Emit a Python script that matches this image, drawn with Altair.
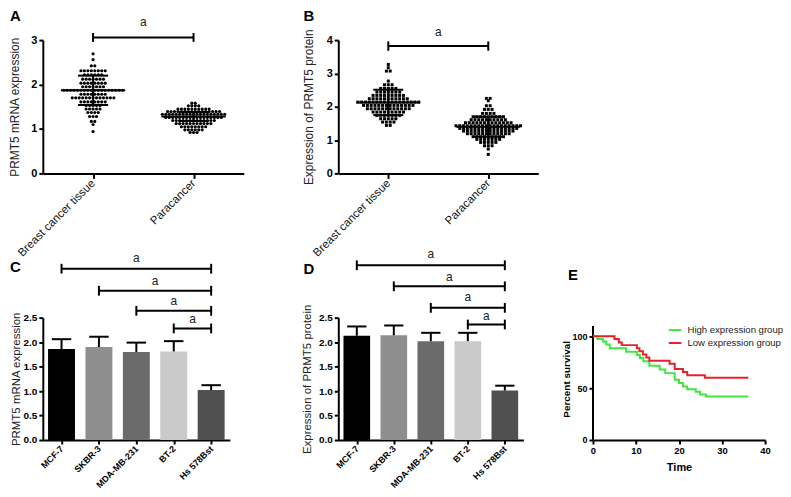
import json
import altair as alt
import pandas as pd

FONT = "Liberation Sans"

# ---------------- Panel A : PRMT5 mRNA (scatter dot plot) ----------------
a_groups = ["Breast cancer tissue", "Paracancer"]
a_breast_levels = [2.69, 2.56, 2.42, 2.31, 2.22, 2.12, 2.03, 1.95, 1.87, 1.78, 1.70, 1.61, 1.53, 1.45, 1.37, 1.28, 1.17, 1.10, 0.94]
a_breast_counts = [1, 1, 2, 8, 6, 7, 8, 7, 18, 8, 13, 8, 5, 5, 4, 3, 2, 1, 1]
a_para_levels = [1.58, 1.52, 1.45, 1.39, 1.33, 1.26, 1.19, 1.12, 1.05, 0.98, 0.92]
a_para_counts = [2, 4, 10, 16, 19, 17, 13, 11, 8, 6, 3]
a_means = [1.87, 1.28]
a_sds = [0.33, 0.10]

# ---------------- Panel B : PRMT5 protein (scatter dot plot) ----------------
b_breast_levels = [3.27, 3.17, 3.07, 2.77, 2.66, 2.55, 2.44, 2.34, 2.24, 2.14, 2.04, 1.94, 1.84, 1.74, 1.64, 1.54, 1.44]
b_breast_counts = [1, 1, 2, 1, 3, 5, 7, 9, 11, 17, 14, 12, 9, 7, 5, 4, 2]
b_para_levels = [2.25, 2.18, 2.03, 1.92, 1.80, 1.70, 1.61, 1.52, 1.43, 1.35, 1.27, 1.19, 1.10, 1.02, 0.93, 0.83, 0.73, 0.57]
b_para_counts = [2, 1, 2, 3, 4, 9, 10, 13, 18, 16, 14, 12, 9, 7, 5, 3, 1, 1]
b_means = [2.13, 1.40]
b_sds = [0.38, 0.30]

# ---------------- Panels C / D : cell lines (bar charts) ----------------
cells = ["MCF-7", "SKBR-3", "MDA-MB-231", "BT-2", "Hs 578Bst"]
bar_colors = ["#000000", "#8e8e8e", "#6b6b6b", "#cacaca", "#505050"]
c_means = [1.86, 1.90, 1.80, 1.81, 1.02]
c_errs = [0.20, 0.21, 0.19, 0.21, 0.10]
d_means = [2.13, 2.14, 2.02, 2.02, 1.01]
d_errs = [0.19, 0.20, 0.17, 0.17, 0.10]
brk_starts = [0, 1, 2, 3]
c_brk_y = [3.50, 3.05, 2.64, 2.28]
c_txt_y = [3.64, 3.17, 2.76, 2.40]
d_brk_y = [3.57, 3.14, 2.70, 2.36]
d_txt_y = [3.71, 3.24, 2.83, 2.46]

# ---------------- Panel E : survival curves ----------------
e_groups = ["High expression group", "Low expression group"]
e_high_t = [0, 1.0, 2.3, 3.1, 3.9, 7.7, 10.2, 10.9, 11.7, 13.1, 15.5, 16.8, 19.0, 20.0, 20.9, 21.9, 23.9, 24.9, 26.3, 36.1]
e_high_s = [100, 97.5, 95, 92, 88.5, 85, 82, 79, 76, 71.5, 68, 64.5, 58, 55, 51.5, 49, 46.5, 44, 42, 42]
e_low_t = [0, 5.0, 6.0, 6.7, 10.2, 10.8, 11.6, 12.4, 13.1, 17.8, 19.0, 20.9, 21.9, 26.0, 36.1]
e_low_s = [100, 97.5, 94, 91.5, 88.5, 85.5, 82.5, 79.5, 76.5, 73.5, 68.5, 65.5, 62.5, 60, 60]
e_colors = ["#3fe63f", "#e3232b"]


def axis_common(**kw):
    base = dict(domainColor="black", domainWidth=2, tickColor="black", tickWidth=2,
                labelFont=FONT, labelColor="black", titleFont=FONT, titleColor="#222",
                grid=False, labelOverlap=False, labelFlush=False)
    base.update(kw)
    return alt.Axis(**base)


def letter_mark(letter, dx, dy):
    return alt.Chart(pd.DataFrame({"t": [letter]})).mark_text(
        font=FONT, fontSize=15, fontWeight="bold", align="left", baseline="top", color="black"
    ).encode(text="t:N", x=alt.value(dx), y=alt.value(dy))


def dot_panel(letter, level_sets, count_sets, means, sds, ymax, ticks, ytitle, shape,
              step, brk, cap, txt_y, width, height, title_pad, letter_dx):
    rows = []
    for ci, (levels, counts) in enumerate(zip(level_sets, count_sets)):
        for v, n in zip(levels, counts):
            for k in range(n):
                rows.append({"x": ci + (k - (n - 1) / 2) * step, "v": v})
    pts = pd.DataFrame(rows)
    xs = alt.Scale(domain=[-0.5, 1.5], nice=False, zero=False)
    ys = alt.Scale(domain=[0, ymax], nice=False)
    xaxis = axis_common(values=[0, 1], labelExpr=f"{json.dumps(a_groups)}[datum.value]",
                        labelAngle=-45, labelAlign="right", labelBaseline="middle",
                        labelFontSize=11.5, labelFontWeight="normal", labelColor="#111",
                        tickSize=5, labelPadding=3, title=None)
    yaxis = axis_common(values=ticks, format="d", labelFontSize=11, labelFontWeight="bold",
                        tickSize=4, title=ytitle, titleFontSize=12, titleFontWeight="normal",
                        titlePadding=title_pad)

    def X(f):
        return alt.X(f, scale=xs, axis=xaxis)

    def Y(f):
        return alt.Y(f, scale=ys, axis=yaxis)

    mk = alt.Chart(pts)
    if shape == "circle":
        mk = mk.mark_circle(size=10, color="black", opacity=1)
    else:
        mk = mk.mark_square(size=9, color="black", opacity=1)
    points = mk.encode(x=X("x:Q"), y=Y("v:Q"))

    stats = alt.Chart(pd.DataFrame({"c": [0, 1], "m": means, "s": sds})).transform_calculate(
        ml="datum.c-0.32", mr="datum.c+0.32", sl="datum.c-0.15", sr="datum.c+0.15",
        hi="datum.m+datum.s", lo="datum.m-datum.s")
    rule = dict(strokeWidth=2, color="black")
    mean_line = stats.mark_rule(**rule).encode(x=X("ml:Q"), x2="mr:Q", y=Y("m:Q"))
    sd_hi = stats.mark_rule(**rule).encode(x=X("sl:Q"), x2="sr:Q", y=Y("hi:Q"))
    sd_lo = stats.mark_rule(**rule).encode(x=X("sl:Q"), x2="sr:Q", y=Y("lo:Q"))
    sd_v = stats.mark_rule(**rule).encode(x=X("c:Q"), y=Y("lo:Q"), y2="hi:Q")

    bdf = pd.DataFrame({"x1": [0], "x2": [1], "y": [brk], "ty": [txt_y], "t": ["a"]})
    bar_h = alt.Chart(bdf).mark_rule(**rule).encode(x=X("x1:Q"), x2="x2:Q", y=Y("y:Q"))
    cdf = pd.DataFrame({"x": [0, 1], "y1": [brk - cap] * 2, "y2": [brk + cap] * 2})
    caps = alt.Chart(cdf).mark_rule(**rule).encode(x=X("x:Q"), y=Y("y1:Q"), y2="y2:Q")
    txt = alt.Chart(bdf).transform_calculate(xm="(datum.x1+datum.x2)/2").mark_text(
        font=FONT, fontSize=12, color="#222", baseline="alphabetic").encode(
        x=X("xm:Q"), y=Y("ty:Q"), text="t:N")

    return alt.layer(points, mean_line, sd_hi, sd_lo, sd_v, bar_h, caps, txt,
                     letter_mark(letter, letter_dx, -31)).properties(width=width, height=height)


def bar_panel(letter, means, errs, brk_ys, txt_ys, ytitle, width, height, title_pad, letter_dx, letter_dy):
    df = pd.DataFrame({"i": list(range(len(cells))), "cell": cells, "col": bar_colors,
                       "m": means, "e": errs})
    xs = alt.Scale(domain=[-0.5, 4.5], nice=False, zero=False)
    ys = alt.Scale(domain=[0, 2.5], nice=False)
    xaxis = axis_common(values=list(range(len(cells))), labelExpr=f"{json.dumps(cells)}[datum.value]",
                        labelAngle=-45, labelAlign="right", labelBaseline="middle",
                        labelFontSize=9, labelFontWeight="bold", tickSize=4, labelPadding=3, title=None)
    yaxis = axis_common(values=[0, 0.5, 1, 1.5, 2, 2.5], format=".1f", labelFontSize=10,
                        labelFontWeight="bold", tickSize=4, title=ytitle, titleFontSize=11.5,
                        titleFontWeight="normal", titlePadding=title_pad)

    def X(f):
        return alt.X(f, scale=xs, axis=xaxis)

    def Y(f):
        return alt.Y(f, scale=ys, axis=yaxis)

    base = alt.Chart(df).transform_calculate(
        xl="datum.i-0.36", xr="datum.i+0.36", z="0", top="datum.m+datum.e",
        cl="datum.i-0.26", cr="datum.i+0.26")
    bars = base.mark_bar().encode(
        x=X("xl:Q"), x2="xr:Q", y=Y("m:Q"), y2="z:Q",
        color=alt.Color("col:N", scale=None, legend=None))
    rule = dict(strokeWidth=2, color="black")
    err_v = base.mark_rule(**rule).encode(x=X("i:Q"), y=Y("m:Q"), y2="top:Q")
    err_c = base.mark_rule(**rule).encode(x=X("cl:Q"), x2="cr:Q", y=Y("top:Q"))

    end = len(cells) - 1
    bdf = pd.DataFrame({"s": brk_starts, "e": [end] * len(brk_starts), "y": brk_ys, "ty": txt_ys,
                        "t": ["a"] * len(brk_starts)})
    bb = alt.Chart(bdf).transform_calculate(
        y1="datum.y-0.1", y2="datum.y+0.1", xm="(datum.s+datum.e)/2")
    brk_h = bb.mark_rule(**rule).encode(x=X("s:Q"), x2="e:Q", y=Y("y:Q"))
    cap_l = bb.mark_rule(**rule).encode(x=X("s:Q"), y=Y("y1:Q"), y2="y2:Q")
    cap_r = bb.mark_rule(**rule).encode(x=X("e:Q"), y=Y("y1:Q"), y2="y2:Q")
    txt = bb.mark_text(font=FONT, fontSize=12, color="#222", baseline="alphabetic").encode(
        x=X("xm:Q"), y=Y("ty:Q"), text="t:N")
    return alt.layer(bars, err_v, err_c, brk_h, cap_l, cap_r, txt,
                     letter_mark(letter, letter_dx, letter_dy)).properties(width=width, height=height)


def survival_panel():
    rows = []
    for g, ts, ss in [(e_groups[0], e_high_t, e_high_s), (e_groups[1], e_low_t, e_low_s)]:
        for t, s in zip(ts, ss):
            rows.append({"group": g, "t": t, "s": s})
    df = pd.DataFrame(rows)
    xs = alt.Scale(domain=[0, 40], nice=False)
    ys = alt.Scale(domain=[0, 118], nice=False)
    xaxis = axis_common(values=[0, 10, 20, 30, 40], format="d", labelFontSize=9.5,
                        labelFontWeight="bold", tickSize=4, title="Time", titleFontSize=11,
                        titleFontWeight="bold", titleColor="black", titlePadding=6)
    yaxis = axis_common(values=[0, 50, 100], format="d", labelFontSize=9, labelFontWeight="bold",
                        tickSize=4, domain=False, title="Percent survival", titleFontSize=10,
                        titleFontWeight="bold", titleColor="black", titlePadding=1)
    lines = alt.Chart(df).mark_line(interpolate="step-after", strokeWidth=2).encode(
        x=alt.X("t:Q", scale=xs, axis=xaxis), y=alt.Y("s:Q", scale=ys, axis=yaxis),
        color=alt.Color("group:N", scale=alt.Scale(domain=e_groups, range=e_colors),
                        legend=alt.Legend(title=None, orient="none", legendX=75, legendY=5,
                                          symbolType="stroke", symbolStrokeWidth=2, symbolSize=160,
                                          labelFont=FONT, labelFontSize=9.6, labelColor="#222",
                                          rowPadding=0, labelOffset=5, padding=0)),
        order="t:Q")
    yline = alt.Chart(pd.DataFrame({"t": [0], "y0": [0], "y1": [110]})).mark_rule(
        strokeWidth=2, color="black").encode(
        x=alt.X("t:Q", scale=xs, axis=xaxis), y=alt.Y("y0:Q", scale=ys, axis=yaxis), y2="y1:Q")
    return alt.layer(yline, lines, letter_mark("E", -25, -50)).properties(width=173, height=123)


def spacer(w):
    return alt.Chart(pd.DataFrame({"v": [0]})).mark_point(opacity=0).encode(
        x=alt.X("v:Q", axis=None), y=alt.Y("v:Q", axis=None)).properties(width=w, height=1)


pa = dot_panel("A", [a_breast_levels, a_para_levels], [a_breast_counts, a_para_counts], a_means, a_sds,
               3, [0, 1, 2, 3], "PRMT5 mRNA expression", "circle", 0.0345, 3.06, 0.1, 3.31,
               202, 134, 9, -33)
pb = dot_panel("B", [b_breast_levels, b_para_levels], [b_breast_counts, b_para_counts], b_means, b_sds,
               4, [0, 1, 2, 3, 4], "Expression of PRMT5 protein", "square", 0.038, 3.82, 0.14, 4.12,
               201, 134, 11, -35)
pc = bar_panel("C", c_means, c_errs, c_brk_y, c_txt_y, "PRMT5 mRNA expression", 188, 123, 2, -33, -58)
pdd = bar_panel("D", d_means, d_errs, d_brk_y, d_txt_y, "Expression of PRMT5 protein", 186, 123, 6, -35, -56)
pe = survival_panel()

chart = alt.concat(
    pa, spacer(95), pb, spacer(55), spacer(20),
    pc, spacer(95), pdd, spacer(55), pe,
    columns=5, spacing={"row": 145, "column": 0}, bounds="flush"
).properties(padding=0).resolve_scale(color="independent").configure_view(stroke=None)

chart.save("out.html", embed_options={"renderer": "svg", "actions": False})
